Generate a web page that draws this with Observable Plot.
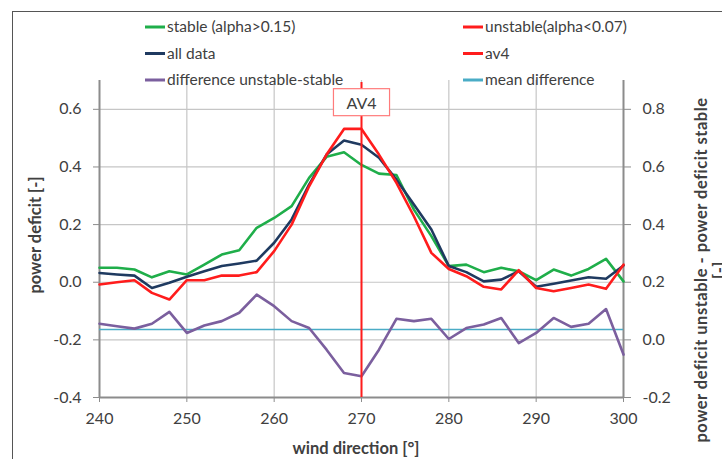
<!DOCTYPE html>
<html>
<head>
<meta charset="utf-8">
<script src="https://cdn.jsdelivr.net/npm/d3@7"></script>
<script src="https://cdn.jsdelivr.net/npm/@observablehq/plot@0.6"></script>
<style>
  html, body { margin: 0; padding: 0; background: #fff; }
  #chart { width: 722px; height: 459px; position: relative; overflow: hidden; }
  #chart svg { position: absolute; left: 0; top: 0; }
</style>
</head>
<body>
<div id="chart"></div>
<script>
// ---- data ----
const windDir = [240,242,244,246,248,250,252,254,256,258,260,262,264,266,268,270,272,274,276,278,280,282,284,286,288,290,292,294,296,298,300];
const stable = [0.050,0.050,0.044,0.017,0.038,0.027,0.061,0.096,0.111,0.189,0.223,0.264,0.362,0.435,0.451,0.407,0.377,0.372,0.252,0.160,0.056,0.061,0.035,0.050,0.038,0.007,0.044,0.023,0.046,0.081,0.003];
const unstable = [-0.008,0.000,0.007,-0.037,-0.060,0.007,0.007,0.023,0.023,0.035,0.108,0.200,0.333,0.443,0.532,0.532,0.443,0.345,0.229,0.102,0.046,0.021,-0.016,-0.025,0.042,-0.020,-0.031,-0.020,-0.008,-0.023,0.061];
const allData = [0.032,0.027,0.023,-0.020,-0.002,0.019,0.038,0.056,0.065,0.075,0.137,0.218,0.339,0.443,0.492,0.477,0.432,0.356,0.270,0.183,0.056,0.035,0.003,0.009,0.038,-0.016,-0.005,0.006,0.017,0.012,0.058];
// difference on the secondary (right) axis
const difference = [0.056,0.047,0.039,0.056,0.097,0.024,0.050,0.065,0.094,0.157,0.117,0.065,0.041,-0.034,-0.115,-0.126,-0.034,0.073,0.065,0.073,0.003,0.041,0.053,0.076,-0.011,0.024,0.076,0.045,0.056,0.107,-0.051];
const meanDifference = [0.036];
const av4 = [270];
const av4Label = "AV4";

const xTicks = [240,250,260,270,280,290,300];
const leftTicks = [-0.4,-0.2,0.0,0.2,0.4,0.6];
const rightTicks = [-0.2,0.0,0.2,0.4,0.6,0.8];
const rightOffset = 0.2; // right axis value = left axis value + 0.2

const legendItems = [
  {label: "stable (alpha>0.15)", color: "#1fae4a", col: 0, row: 0},
  {label: "unstable(alpha<0.07)", color: "#ff1c1c", col: 1, row: 0},
  {label: "all data", color: "#1f3a60", col: 0, row: 1},
  {label: "av4", color: "#ff1c1c", col: 1, row: 1},
  {label: "difference unstable-stable", color: "#7b5f9e", col: 0, row: 2},
  {label: "mean difference", color: "#4aacc6", col: 1, row: 2}
];

const xTitle = "wind direction [°]";
const yTitle = "power deficit [-]";
const y2Title = "power deficit unstable - power deficit stable";
const y2Title2 = "[-]";

// ---- table ----
const rows = windDir.map((d, i) => ({
  dir: d, stable: stable[i], unstable: unstable[i], all: allData[i], diff: difference[i]
}));

const FONT = "Lato, 'Open Sans', sans-serif";
const gridColor = "#c6c6c6";
const axisColor = "#8c8c8c";
const textColor = "#404040";

const plot = Plot.plot({
  width: 722,
  height: 459,
  marginLeft: 99,
  marginRight: 99,
  marginTop: 80,
  marginBottom: 62,
  style: {fontFamily: FONT, fontSize: "16px", color: textColor, background: "transparent", overflow: "visible"},
  x: {domain: [240, 300]},
  y: {domain: [-0.4, 0.7]},
  marks: [
    Plot.gridX(xTicks.slice(1, -1), {stroke: gridColor, strokeOpacity: 1, strokeWidth: 1.2}),
    Plot.gridY(leftTicks.slice(1), {stroke: gridColor, strokeOpacity: 1, strokeWidth: 1.2}),
    Plot.axisY(leftTicks, {anchor: "left", tickSize: 6, tickPadding: 12, stroke: axisColor, tickFormat: d => d.toFixed(1), label: null, fontSize: 16, fill: textColor}),
    Plot.axisY(rightTicks.map(t => t - rightOffset), {anchor: "right", tickSize: 7, tickPadding: 12, stroke: axisColor, tickFormat: d => (d + rightOffset).toFixed(1), label: null, fontSize: 16, fill: textColor}),
    Plot.axisX(xTicks, {anchor: "bottom", tickSize: 5, tickPadding: 10, stroke: axisColor, tickFormat: d => String(d), label: null, fontSize: 16, fill: textColor}),
    Plot.ruleX([240, 300], {stroke: axisColor, strokeWidth: 2}),
    Plot.ruleY([-0.4], {stroke: axisColor, strokeWidth: 2}),
    Plot.ruleY(meanDifference, {y: d => d - rightOffset, x1: 240, x2: 300, stroke: "#4aacc6", strokeWidth: 1.6}),
    Plot.line(rows, {x: "dir", y: d => d.diff - rightOffset, stroke: "#7b5f9e", strokeWidth: 2.6}),
    Plot.line(rows, {x: "dir", y: "stable", stroke: "#1fae4a", strokeWidth: 2.6}),
    Plot.line(rows, {x: "dir", y: "all", stroke: "#1f3a60", strokeWidth: 2.6}),
    Plot.line(rows, {x: "dir", y: "unstable", stroke: "#ff1c1c", strokeWidth: 2.6}),
    Plot.ruleX(av4, {y1: -0.4, y2: 0.693, stroke: "#ff1c1c", strokeWidth: 2}),
    Plot.text(av4, {x: d => d, y: 0.62, text: () => av4Label, fontSize: 16, fill: textColor, className: "av4label"})
  ]
});

const chart = document.getElementById("chart");
chart.appendChild(plot);
const svg = d3.select(plot);

// AV4 box behind the label
svg.selectAll(".av4label text").each(function () {
  const bb = this.getBBox();
  const tr = this.getAttribute("transform");
  const r = d3.select(this.parentNode).insert("rect", () => this)
    .attr("x", bb.x - 13).attr("y", bb.y - 4)
    .attr("width", bb.width + 26).attr("height", bb.height + 8)
    .attr("fill", "#fff").attr("stroke", "#ff7b7b").attr("stroke-width", 1.2);
  if (tr) r.attr("transform", tr);
});

// legend
const colX = [145, 463];
const rowY = [27, 53.5, 80];
const leg = svg.append("g").attr("font-family", FONT).attr("font-size", 15.5)
  .attr("fill", textColor).attr("text-anchor", "start");
legendItems.forEach(it => {
  const x = colX[it.col], y = rowY[it.row];
  leg.append("line").attr("x1", x).attr("x2", x + 20).attr("y1", y).attr("y2", y)
    .attr("stroke", it.color).attr("stroke-width", 3);
  leg.append("text").attr("x", x + 22).attr("y", y).attr("dy", "0.35em")
    .attr("text-anchor", "start").text(it.label);
});

// axis titles
svg.append("text").attr("x", 356).attr("y", 448).attr("text-anchor", "middle")
  .attr("dy", "0.35em").attr("font-family", FONT).attr("font-weight", "bold")
  .attr("font-size", 16.5).attr("fill", textColor).text(xTitle);
svg.append("text").attr("transform", "translate(35,235) rotate(-90)")
  .attr("text-anchor", "middle").attr("dy", "0.35em").attr("font-family", FONT)
  .attr("font-weight", "bold").attr("font-size", 16.5).attr("fill", textColor).text(yTitle);
const t2 = svg.append("text").attr("transform", "translate(701,270) rotate(-90)")
  .attr("text-anchor", "middle").attr("font-family", FONT)
  .attr("font-weight", "bold").attr("font-size", 16.5).attr("letter-spacing", 0.5).attr("fill", textColor);
t2.append("tspan").attr("x", 0).attr("dy", "0.35em").text(y2Title);
t2.append("tspan").attr("x", 0).attr("dy", "1.1em").text(y2Title2);

// outer chart border (extends past the right and bottom edges, as in the reference)
svg.append("path")
  .attr("d", "M12.5,470 V11.5 H730")
  .attr("fill", "none").attr("stroke", "#555").attr("stroke-width", 1.2)
  .attr("shape-rendering", "crispEdges");
</script>
</body>
</html>
